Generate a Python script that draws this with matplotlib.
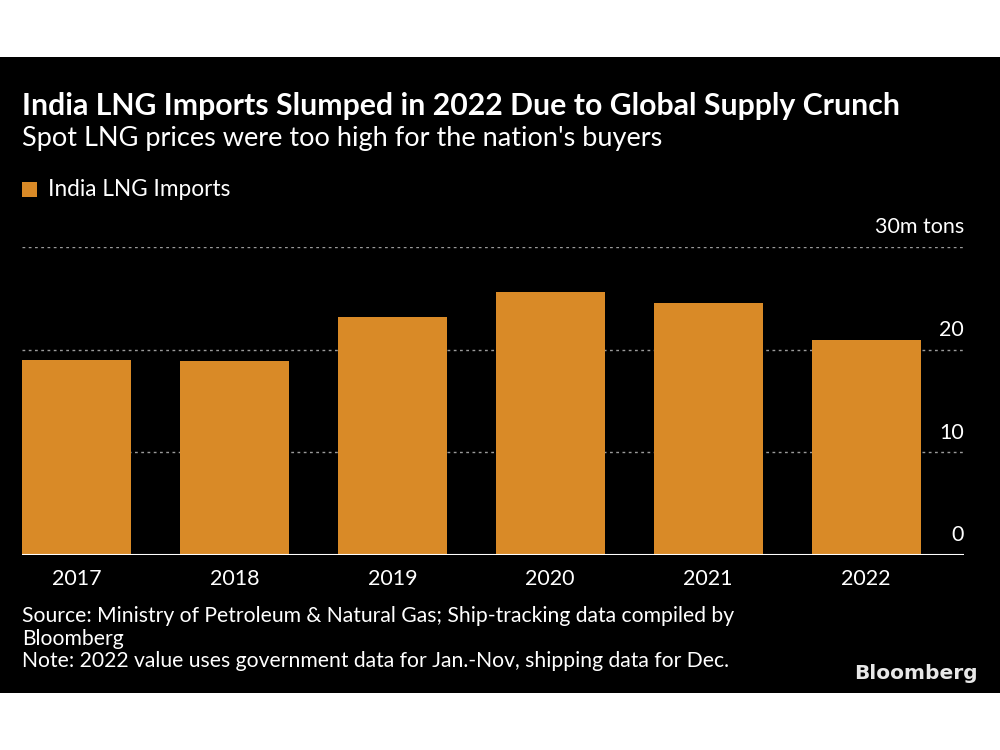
import matplotlib.pyplot as plt
import matplotlib.patches as mpatches
import matplotlib.transforms as mtransforms

years = ["2017", "2018", "2019", "2020", "2021", "2022"]
imports = [19.0, 18.9, 23.2, 25.6, 24.5, 20.9]
ticks = [0, 10, 20, 30]
tick_labels = ["0", "10", "20", "30m tons"]

bar_color = "#D98A27"
font = "Lato"

fig = plt.figure(figsize=(10, 7.5), dpi=100, facecolor="white")
# black panel behind everything
fig.patches.append(mpatches.Rectangle((0, 0.076), 1, 0.848, transform=fig.transFigure,
                                      facecolor="black", edgecolor="none", zorder=-10))

ax = fig.add_axes([0.022, 0.26, 0.942, 0.4107])
ax.set_zorder(2)
ax.set_facecolor("none")
x = range(len(years))
ax.bar(x, imports, width=0.69, color=bar_color, zorder=3)
ax.set_xlim(-0.345, 5.62)
ax.set_ylim(0, 30)

# gridlines
for t in ticks[1:]:
    ax.axhline(t, color="#9a9a9a", lw=1, ls=(0, (2, 2.5)), zorder=1)
ax.axhline(0, color="white", lw=1.5, zorder=4)

for s in ax.spines.values():
    s.set_visible(False)
ax.set_yticks([])
ax.set_xticks(list(x))
ax.set_xticklabels(years, color="white", fontsize=15.5, family=font)
ax.tick_params(axis="x", length=0, pad=10)

trans = mtransforms.blended_transform_factory(ax.transAxes, ax.transData)
off = mtransforms.offset_copy(trans, fig=fig, x=0, y=7, units="points")
for t, lab in zip(ticks, tick_labels):
    ax.text(1.0, t, lab, transform=off, ha="right", va="bottom",
            color="white", fontsize=15.5, family=font)

fig.text(0.022, 0.858, "India LNG Imports Slumped in 2022 Due to Global Supply Crunch",
         color="white", fontsize=21.8, fontweight="bold", family=font, va="center")
fig.text(0.022, 0.815, "Spot LNG prices were too high for the nation's buyers",
         color="white", fontsize=19.5, family=font, va="center")

fig.patches.append(mpatches.Rectangle((0.022, 0.738), 0.015, 0.02, transform=fig.transFigure,
                                      facecolor=bar_color, edgecolor="none"))
fig.text(0.048, 0.748, "India LNG Imports", color="white", fontsize=16.3,
         family=font, va="center")

fig.text(0.022, 0.192, "Source: Ministry of Petroleum & Natural Gas; Ship-tracking data compiled by\nBloomberg\n"
         "Note: 2022 value uses government data for Jan.-Nov, shipping data for Dec.",
         color="white", fontsize=15.2, family=font, va="top", linespacing=1.17)
fig.text(0.978, 0.102, "Bloomberg", color="#e8e8e8", fontsize=14.5, fontweight="bold",
         family="Liberation Sans Narrow", ha="right", va="center")

fig.savefig("out.png", dpi=100, facecolor="white")
